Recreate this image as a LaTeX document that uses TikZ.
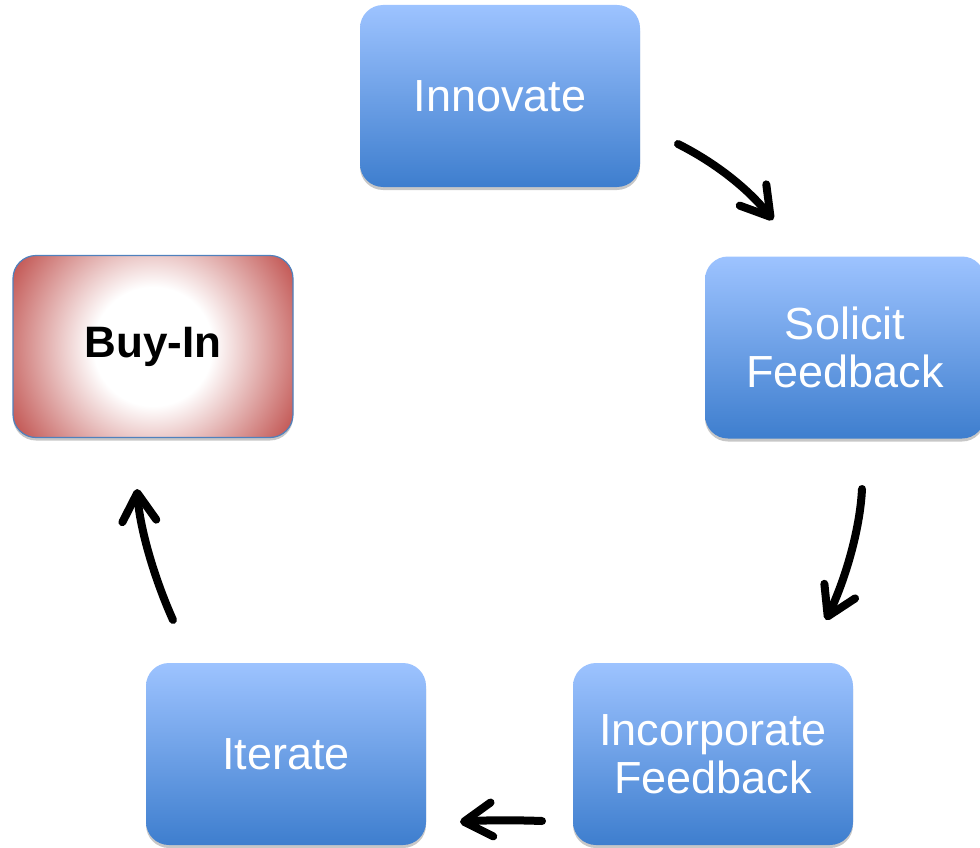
\documentclass[tikz,border=0pt]{standalone}
\usepackage{fontspec}
\setmainfont{Liberation Sans}
\usetikzlibrary{arrows.meta,shadows}
\definecolor{topblue}{RGB}{157,195,255}
\definecolor{botblue}{RGB}{62,126,206}
\definecolor{buyred}{RGB}{192,80,77}
\definecolor{buyborder}{RGB}{79,129,189}
\pgfdeclareradialshading{buyin}{\pgfpoint{0bp}{0bp}}{color(0bp)=(white); color(9bp)=(white); color(25bp)=(buyred); color(50bp)=(buyred)}
\tikzset{
  boxshadow/.style={drop shadow={shadow xshift=0pt,shadow yshift=-3pt,opacity=0.22,fill=black}},
  boxbase/.style={rectangle, rounded corners=23pt, minimum width=280pt, minimum height=182pt, inner sep=0pt, align=center, boxshadow},
  bluebox/.style={boxbase, top color=topblue, bottom color=botblue, text=white, font=\fontsize{45}{48}\selectfont},
  buybox/.style={boxbase, draw=buyborder, line width=1.2pt, text=black, font=\fontsize{44}{48}\selectfont\bfseries,
    path picture={\shade[shading=buyin] (path picture bounding box.center) circle (165pt);}},
  flow/.style={line width=8pt, line cap=round, -{Straight Barb[length=28pt,width=34pt,round]}},
}
\begin{document}
\begin{tikzpicture}[x=1pt,y=-1pt]
\useasboundingbox (0,0) rectangle (980,848);
\node[bluebox] (innovate) at (500,96) {Innovate};
\node[bluebox] (solicit) at (845,347.5) {Solicit\\Feedback};
\node[bluebox] (incorp) at (713,754) {Incorporate\\Feedback};
\node[bluebox] (iterate) at (286,754) {Iterate};
\node[buybox] (buyin) at (153,346.5) {Buy-In};
\coordinate (a1s) at (678,144);
\coordinate (a1e) at (773,220);
\coordinate (a2s) at (862,489);
\coordinate (a2e) at (826,620);
\coordinate (a3s) at (542,821);
\coordinate (a3e) at (460,822);
\coordinate (a4s) at (173,620);
\coordinate (a4e) at (137,489);
\draw[flow] (a1s) .. controls (710,160) and (745,185) .. (a1e);
\draw[flow] (a2s) .. controls (860,530) and (845,580) .. (a2e);
\draw[flow] (a3s) .. controls (515,820) and (485,820) .. (a3e);
\draw[flow] (a4s) .. controls (155,580) and (140,530) .. (a4e);
\end{tikzpicture}
\end{document}
